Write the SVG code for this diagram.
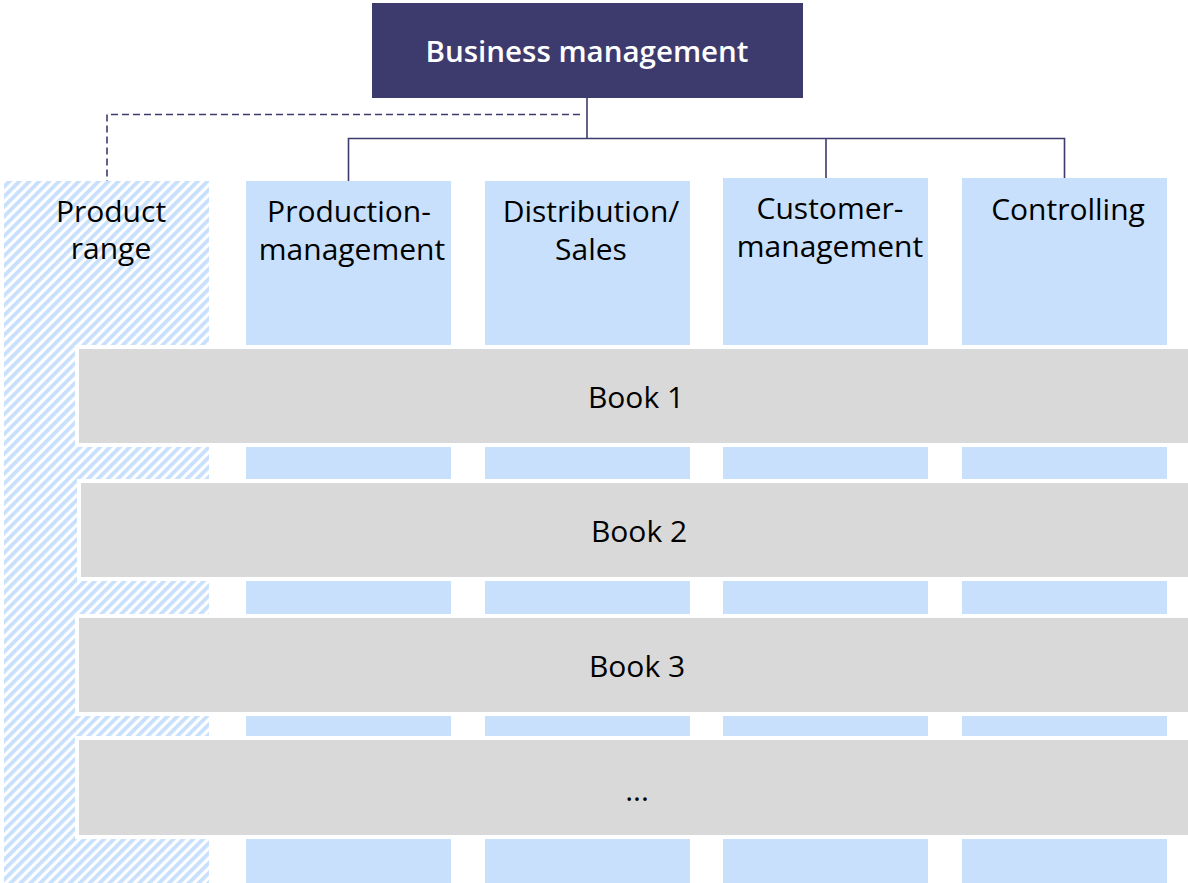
<svg xmlns="http://www.w3.org/2000/svg" width="1188" height="883" viewBox="0 0 1188 883">
  <style>
    .lbl{font-family:"Open Sans","Noto Sans","Liberation Sans",sans-serif;font-size:30px;fill:#000;text-anchor:middle}
    .top{font-family:"Open Sans","Noto Sans","Liberation Sans",sans-serif;font-size:29.5px;font-weight:600;fill:#fff;text-anchor:middle}
    .col{fill:#c8e0fc}
    .row{fill:#d9d9d9;stroke:#fff;stroke-width:4}
    .conn{fill:none;stroke:#3d3b6e;stroke-width:1.6}
  </style>
  <defs>
    <pattern id="hatch" patternUnits="userSpaceOnUse" width="7" height="7" patternTransform="rotate(45)">
      <rect x="0" y="0" width="7" height="7" fill="#fff"/>
      <rect x="0" y="0" width="3.8" height="7" fill="#c8e0fc"/>
    </pattern>
  </defs>
  <rect width="1188" height="883" fill="#fff"/>

  <g id="connectors">
    <path class="conn" d="M587 98 V138.5 M348.5 181 V138.5 H1064.5 V178 M826 138.5 V178"/>
    <path class="conn" d="M580 114.5 H107 V181" stroke-dasharray="7 4"/>
  </g>

  <g id="product-range">
    <rect x="4" y="181" width="205" height="702" fill="url(#hatch)"/>
    <text class="lbl" x="111" y="222">Product</text>
    <text class="lbl" x="111" y="259">range</text>
  </g>

  <g id="production-management">
    <rect class="col" x="246" y="181" width="205" height="702"/>
    <text class="lbl" x="349" y="222">Production-</text>
    <text class="lbl" x="352" y="260">management</text>
  </g>
  <g id="distribution-sales">
    <rect class="col" x="485" y="181" width="205" height="702"/>
    <text class="lbl" x="591" y="222">Distribution/</text>
    <text class="lbl" x="591" y="260">Sales</text>
  </g>
  <g id="customer-management">
    <rect class="col" x="723" y="178" width="205" height="705"/>
    <text class="lbl" x="830" y="219">Customer-</text>
    <text class="lbl" x="830" y="257">management</text>
  </g>
  <g id="controlling">
    <rect class="col" x="962" y="178" width="205" height="705"/>
    <text class="lbl" x="1068" y="220">Controlling</text>
  </g>

  <g id="business-management">
    <rect x="372" y="3" width="431" height="95" fill="#3d3b6e"/>
    <text class="top" x="587" y="62">Business management</text>
  </g>

  <g id="book-1">
    <rect class="row" x="77" y="347" width="1115" height="98"/>
    <text class="lbl" x="636" y="408">Book 1</text>
  </g>
  <g id="book-2">
    <rect class="row" x="79" y="481" width="1115" height="98"/>
    <text class="lbl" x="639" y="542">Book 2</text>
  </g>
  <g id="book-3">
    <rect class="row" x="77" y="616" width="1115" height="98"/>
    <text class="lbl" x="637" y="677">Book 3</text>
  </g>
  <g id="book-more">
    <rect class="row" x="77" y="738" width="1115" height="99"/>
    <text class="lbl" x="637" y="801">...</text>
  </g>
</svg>
